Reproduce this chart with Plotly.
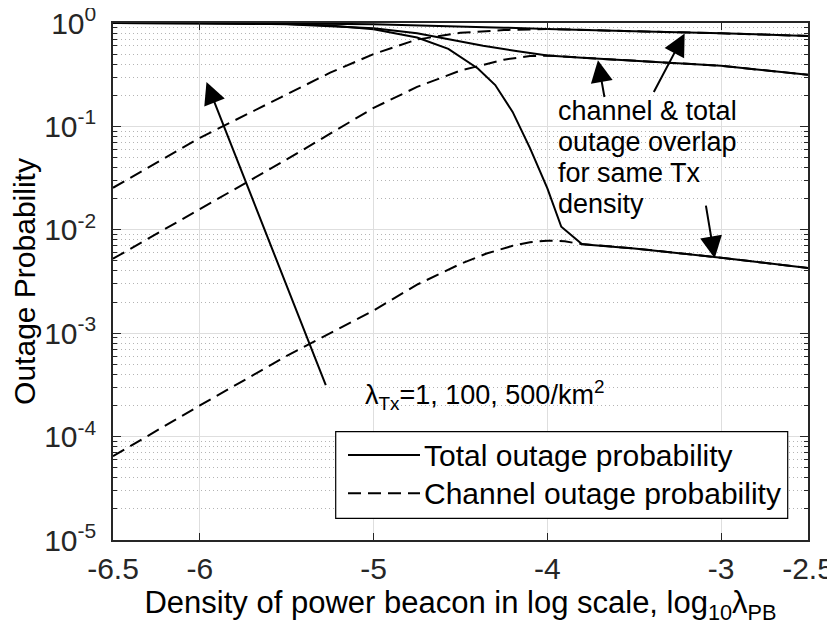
import plotly.graph_objects as go

# ---- data ----
x_ch1 = [-6.5, -6.0, -5.5, -5.0, -4.75, -4.5, -4.35, -4.2, -4.1, -4.0, -3.9, -3.82, -3.5, -3.0, -2.5]
y_ch1 = [6.46e-5, 2.00e-4, 6.03e-4, 1.66e-3, 2.95e-3, 4.68e-3, 5.89e-3, 7.00e-3, 7.59e-3, 7.85e-3, 7.76e-3, 7.33e-3, 6.61e-3, 5.37e-3, 4.27e-3]

x_tot1 = [-6.5, -6.0, -5.5, -5.25, -5.0, -4.75, -4.57, -4.4, -4.3, -4.2, -4.1, -4.0, -3.92, -3.8, -3.5, -3.0, -2.5]
y_tot1 = [1.0, 0.995, 0.977, 0.944, 0.871, 0.724, 0.562, 0.363, 0.251, 0.138, 0.0617, 0.0251, 0.0107, 0.00724, 0.00661, 0.00537, 0.00427]

x_ch100 = [-6.5, -6.0, -5.5, -5.0, -4.75, -4.5, -4.25, -4.1, -4.0, -3.8, -3.5, -3.0, -2.5]
y_ch100 = [5.25e-3, 1.58e-2, 4.79e-2, 0.151, 0.241, 0.347, 0.442, 0.479, 0.484, 0.462, 0.431, 0.385, 0.316]

x_tot100 = [-6.5, -6.0, -5.5, -5.0, -4.75, -4.56, -4.37, -4.18, -4.0, -3.8, -3.5, -3.0, -2.5]
y_tot100 = [1.0, 0.995, 0.973, 0.891, 0.794, 0.692, 0.603, 0.537, 0.484, 0.462, 0.431, 0.385, 0.316]

x_ch500 = [-6.5, -6.0, -5.5, -5.25, -5.0, -4.75, -4.5, -4.25, -4.0, -3.8, -3.5, -3.0, -2.5]
y_ch500 = [0.0255, 0.0776, 0.204, 0.331, 0.501, 0.692, 0.804, 0.855, 0.875, 0.861, 0.832, 0.794, 0.750]

x_tot500 = [-6.5, -6.0, -5.5, -5.0, -4.5, -4.25, -4.0, -3.8, -3.5, -3.0, -2.5]
y_tot500 = [1.0, 0.998, 0.991, 0.973, 0.933, 0.902, 0.875, 0.861, 0.832, 0.794, 0.750]

x_ticks = [-6.5, -6, -5, -4, -3, -2.5]
x_ticklabels = ["-6.5", "-6", "-5", "-4", "-3", "-2.5"]
y_ticks = [1e-5, 1e-4, 1e-3, 1e-2, 1e-1, 1]
y_ticklabels = ["10<sup>-5</sup>", "10<sup>-4</sup>", "10<sup>-3</sup>",
                "10<sup>-2</sup>", "10<sup>-1</sup>", "10<sup>0</sup>"]
y_minor = [m * 10.0 ** e for e in range(-5, 0) for m in range(2, 10)]

legend_labels = ["Total outage probability", "Channel outage probability"]

FONT = "Liberation Sans, Arial, Helvetica, sans-serif"
AXC = "#262626"

# page body has an 8px margin, so the figure is 8px smaller on each axis
W, H = 827, 629
ML, MT = 105, 15
PW, PH = 695, 517

fig = go.Figure()
solid = dict(color="black", width=2)
dashed = dict(color="black", width=2, dash="13px,7px")
for xs, ys in [(x_ch1, y_ch1), (x_ch100, y_ch100), (x_ch500, y_ch500)]:
    fig.add_trace(go.Scatter(x=xs, y=ys, mode="lines", line=dashed, showlegend=False))
for xs, ys in [(x_tot1, y_tot1), (x_tot100, y_tot100), (x_tot500, y_tot500)]:
    fig.add_trace(go.Scatter(x=xs, y=ys, mode="lines", line=solid, showlegend=False))

fig.update_layout(
    width=W, height=H,
    margin=dict(l=ML, r=W - ML - PW, t=MT, b=H - MT - PH),
    plot_bgcolor="white", paper_bgcolor="white",
    font=dict(family=FONT, color=AXC, size=30),
    showlegend=False,
)
fig.update_xaxes(
    range=[-6.5, -2.5], tickvals=x_ticks, ticktext=x_ticklabels, automargin=False,
    showgrid=True, gridcolor="#dedede", gridwidth=1,
    showline=True, linecolor=AXC, linewidth=1.5, mirror="allticks",
    ticks="inside", ticklen=7, tickcolor=AXC, tickwidth=1,
    tickfont=dict(size=30, color=AXC), ticklabelstandoff=1, ticklabeloverflow="allow",
    zeroline=False,
    title=dict(text="Density of power beacon in log scale, log<sub>10</sub>λ<sub>PB</sub>",
               font=dict(size=31, color="black"), standoff=8),
)
fig.update_yaxes(
    type="log", range=[-5, 0], tickvals=y_ticks, ticktext=y_ticklabels, automargin=False,
    showgrid=True, gridcolor="#dedede", gridwidth=1,
    showline=True, linecolor=AXC, linewidth=1.5, mirror="allticks",
    ticks="inside", ticklen=8, tickcolor=AXC, tickwidth=1,
    tickfont=dict(size=30, color=AXC), ticklabelstandoff=9, ticklabeloverflow="allow",
    minor=dict(tickvals=y_minor, ticks="inside", ticklen=4, tickcolor=AXC,
               showgrid=True, gridcolor="#b4b4b4", gridwidth=1, griddash="1px,3px"),
    zeroline=False,
    title=dict(text="Outage Probability", font=dict(size=30, color="black"), standoff=4),
)

# ---- arrows ----
arrows = [
    # (head x, head log10 y, tail x, tail log10 y)
    (-5.962, -0.570, -5.272, -3.517),
    (-3.709, -0.360, -3.670, -0.730),
    (-3.210, -0.102, -3.392, -0.682),
    (-3.037, -2.276, -3.089, -1.752),
]
for hx, hy, tx, ty in arrows:
    fig.add_annotation(x=hx, y=hy, ax=tx, ay=ty, xref="x", yref="y", axref="x", ayref="y",
                       text="", showarrow=True, arrowhead=2, arrowsize=2.2, arrowwidth=2,
                       arrowcolor="black", standoff=0)

# ---- text annotations ----
fig.add_annotation(x=-5.063, y=-3.60, xref="x", yref="y", xanchor="left", yanchor="middle",
                   text="λ<sub>Tx</sub>=1, 100, 500/km<sup>2</sup>", showarrow=False,
                   font=dict(size=27, color="black", family=FONT))
note_lines = ["channel &amp; total", "outage overlap", "for same Tx", "density"]
for i, line in enumerate(note_lines):
    fig.add_annotation(x=-3.948, y=-0.85 - i * 0.30, xref="x", yref="y", xanchor="left",
                       yanchor="middle", text=line, showarrow=False,
                       font=dict(size=27, color="black", family=FONT))

# ---- legend (drawn box), positions given in page pixels ----
def px_x(p):
    return (p - 8 - ML) / PW

def px_y(p):
    return (8 + MT + PH - p) / PH

fig.add_shape(type="rect", xref="paper", yref="paper",
              x0=px_x(335.7), x1=px_x(787.7), y0=px_y(518.3), y1=px_y(431.7),
              line=dict(color="black", width=1.2), fillcolor="white", layer="above")
for i, (lab, st) in enumerate(zip(legend_labels, [None, "13px,7px"])):
    yy = px_y(455 + i * 38.3)
    fig.add_shape(type="line", xref="paper", yref="paper", x0=px_x(348), x1=px_x(420),
                  y0=yy, y1=yy, line=dict(color="black", width=2, dash=st or "solid"),
                  layer="above")
    fig.add_annotation(x=px_x(422), y=yy, xref="paper", yref="paper", xanchor="left",
                       yanchor="middle", text=lab, showarrow=False,
                       font=dict(size=30, color="black", family=FONT))

fig.write_html("out.html")
